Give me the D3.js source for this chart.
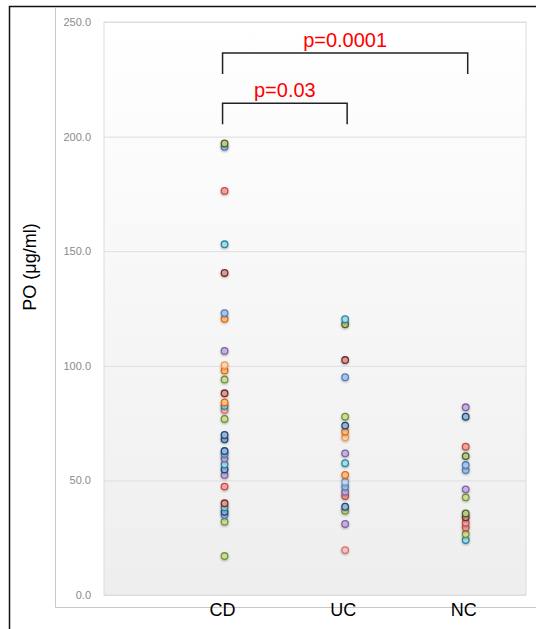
<!DOCTYPE html>
<html>
<head>
<meta charset="utf-8">
<script src="https://cdn.jsdelivr.net/npm/d3@7"></script>
<style>
  html, body { margin: 0; padding: 0; background: #fff; }
  svg { display: block; }
</style>
</head>
<body>
<svg id="chart" width="536" height="629"></svg>
<script>
// ---------- DATA ----------
const categories = ["CD", "UC", "NC"];
const cdValues = [197, 195.5, 176.3, 153, 140.5, 123, 120.5, 106.5, 100.3, 98, 94, 88, 84, 82.5, 80.7, 76.8,
  69.8, 67.9, 62.8, 61.5, 59.6, 57, 54.8, 52.4, 47.3, 40, 38.3, 36.3, 34.9, 32, 17];
const ucValues = [120.3, 118.1, 102.5, 95, 77.8, 73.9, 71.3, 68.8, 61.8, 57.5, 52.4, 49.4, 47.3, 45.1, 43.2,
  38.5, 36.8, 31, 19.6];
const ncValues = [81.9, 77.8, 64.7, 60.6, 56.7, 54.5, 46.1, 42.6, 35.6, 33.9, 31.5, 29.5, 26.6, 24];
const yTicks = [0, 50, 100, 150, 200, 250];
const comparisons = [
  { from: "CD", to: "NC", label: "p=0.0001", level: 236.5 },
  { from: "CD", to: "UC", label: "p=0.03", level: 214.6 }
];

// ---------- STYLE (marker hues per point, separate from data) ----------
const palette = {
  blue:   ["#a9c4e8", "#4f81bd"],
  red:    ["#f0a3a1", "#c0504d"],
  green:  ["#c9dd96", "#76923c"],
  purple: ["#c3b2dc", "#8064a2"],
  aqua:   ["#9fdcec", "#31859c"],
  orange: ["#fbbf8c", "#e46c0a"],
  navy:   ["#9db3d3", "#1f497d"],
  maroon: ["#d79b99", "#772c2a"],
  olive:  ["#b8cc86", "#4f6228"],
  peach:  ["#fcd5b4", "#f79646"],
  lblue:  ["#c6d9f1", "#729aca"],
  pink:   ["#f6c2c1", "#d9716e"]
};
const cdHues = ["olive","blue","red","aqua","maroon","blue","orange","purple","peach","orange","green","maroon","orange","aqua","pink","green",
  "navy","navy","navy","blue","purple","aqua","navy","purple","red","maroon","aqua","navy","blue","green","green"];
const ucHues = ["aqua","olive","maroon","blue","green","navy","orange","peach","purple","aqua","orange","lblue","blue","purple","red",
  "navy","green","purple","pink"];
const ncHues = ["purple","navy","red","olive","blue","blue","purple","green","olive","maroon","red","red","green","aqua"];

// ---------- LAYOUT ----------
const svg = d3.select("#chart");
const plot = { left: 104, right: 526, top: 22, bottom: 595 };

const x = d3.scaleLinear().domain([0, 3.5]).range([plot.left, plot.right]);
const catPos = d3.scaleOrdinal().domain(categories).range([1, 2, 3]);
const y = d3.scaleLinear().domain([0, 250]).range([plot.bottom, plot.top]);

// outer frame (black) and chart-area lines (grey)
svg.append("rect").attr("x", 0).attr("y", 0).attr("width", 536).attr("height", 629).attr("fill", "#fff");
svg.append("path").attr("d", "M9.5,629 V6.5 H536").attr("fill", "none").attr("stroke", "#111").attr("stroke-width", 1.5);
svg.append("path").attr("d", "M55.5,7 V607.5 H536").attr("fill", "none").attr("stroke", "#c8c8c8").attr("stroke-width", 1);

// plot background gradient
const defs = svg.append("defs");
const grad = defs.append("linearGradient").attr("id", "bg").attr("x1", 0).attr("y1", 0).attr("x2", 0).attr("y2", 1);
grad.append("stop").attr("offset", "0%").attr("stop-color", "#ffffff");
grad.append("stop").attr("offset", "100%").attr("stop-color", "#eeeeee");
const shadow = defs.append("filter").attr("id", "sh").attr("x", "-50%").attr("y", "-50%").attr("width", "200%").attr("height", "200%");
shadow.append("feDropShadow").attr("dx", 0).attr("dy", 1).attr("stdDeviation", 0.8).attr("flood-color", "#000").attr("flood-opacity", 0.3);

svg.append("rect")
  .attr("x", plot.left).attr("y", plot.top)
  .attr("width", plot.right - plot.left).attr("height", plot.bottom - plot.top)
  .attr("fill", "url(#bg)").attr("stroke", "#dcdcdc").attr("stroke-width", 1);

// gridlines
const grid = svg.append("g").attr("transform", `translate(${plot.left},0)`)
  .call(d3.axisLeft(y).tickValues(yTicks).tickSize(-(plot.right - plot.left)).tickFormat(""));
grid.select(".domain").remove();
grid.selectAll("line").attr("stroke", "#dedede").attr("stroke-width", 1);

// y axis labels
const yAxis = svg.append("g").attr("transform", `translate(${plot.left},0)`)
  .call(d3.axisLeft(y).tickValues(yTicks).tickSize(0).tickPadding(13).tickFormat(d3.format(".1f")));
yAxis.select(".domain").remove();
yAxis.selectAll("text").attr("fill", "#8a8a8a").style("font-family", "'Liberation Sans', Arial, sans-serif").style("font-size", "11px");

// y title
svg.append("text")
  .attr("transform", "translate(36,267) rotate(-90)")
  .attr("text-anchor", "middle")
  .style("font-family", "'Liberation Sans', Arial, sans-serif").style("font-size", "18px").attr("fill", "#000")
  .text("PO (μg/ml)");

// x category labels
svg.append("g").selectAll("text").data(categories).join("text")
  .attr("x", d => x(catPos(d)) - 2)
  .attr("y", 616)
  .attr("text-anchor", "middle")
  .style("font-family", "'Liberation Sans', Arial, sans-serif").style("font-size", "18px").attr("fill", "#000")
  .text(d => d);

// points
const groups = [
  { cat: "CD", values: cdValues, hues: cdHues },
  { cat: "UC", values: ucValues, hues: ucHues },
  { cat: "NC", values: ncValues, hues: ncHues }
];
const pts = [];
groups.forEach(g => g.values.forEach((v, i) => pts.push({ cat: g.cat, v, hue: g.hues[i] })));
svg.append("g").selectAll("circle").data(pts.slice().reverse()).join("circle")
  .attr("cx", d => x(catPos(d.cat)))
  .attr("cy", d => y(d.v))
  .attr("r", 3.3)
  .attr("fill", d => palette[d.hue][0])
  .attr("stroke", d => palette[d.hue][1])
  .attr("stroke-width", 1.3)
  .attr("filter", "url(#sh)");

// comparison brackets
const br = svg.append("g");
comparisons.forEach(c => {
  const x1 = x(catPos(c.from)) - 2, x2 = x(catPos(c.to)) + 2;
  const yt = y(c.level), yb = yt + 21;
  br.append("path")
    .attr("d", `M${x1},${yb} V${yt} H${x2} V${yb}`)
    .attr("fill", "none").attr("stroke", "#222").attr("stroke-width", 1.5);
  br.append("text")
    .attr("x", (x1 + x2) / 2).attr("y", yt - 6)
    .attr("text-anchor", "middle")
    .style("font-family", "'Liberation Sans', Arial, sans-serif").style("font-size", "20px").attr("fill", "#ff0000")
    .text(c.label);
});
</script>
</body>
</html>
